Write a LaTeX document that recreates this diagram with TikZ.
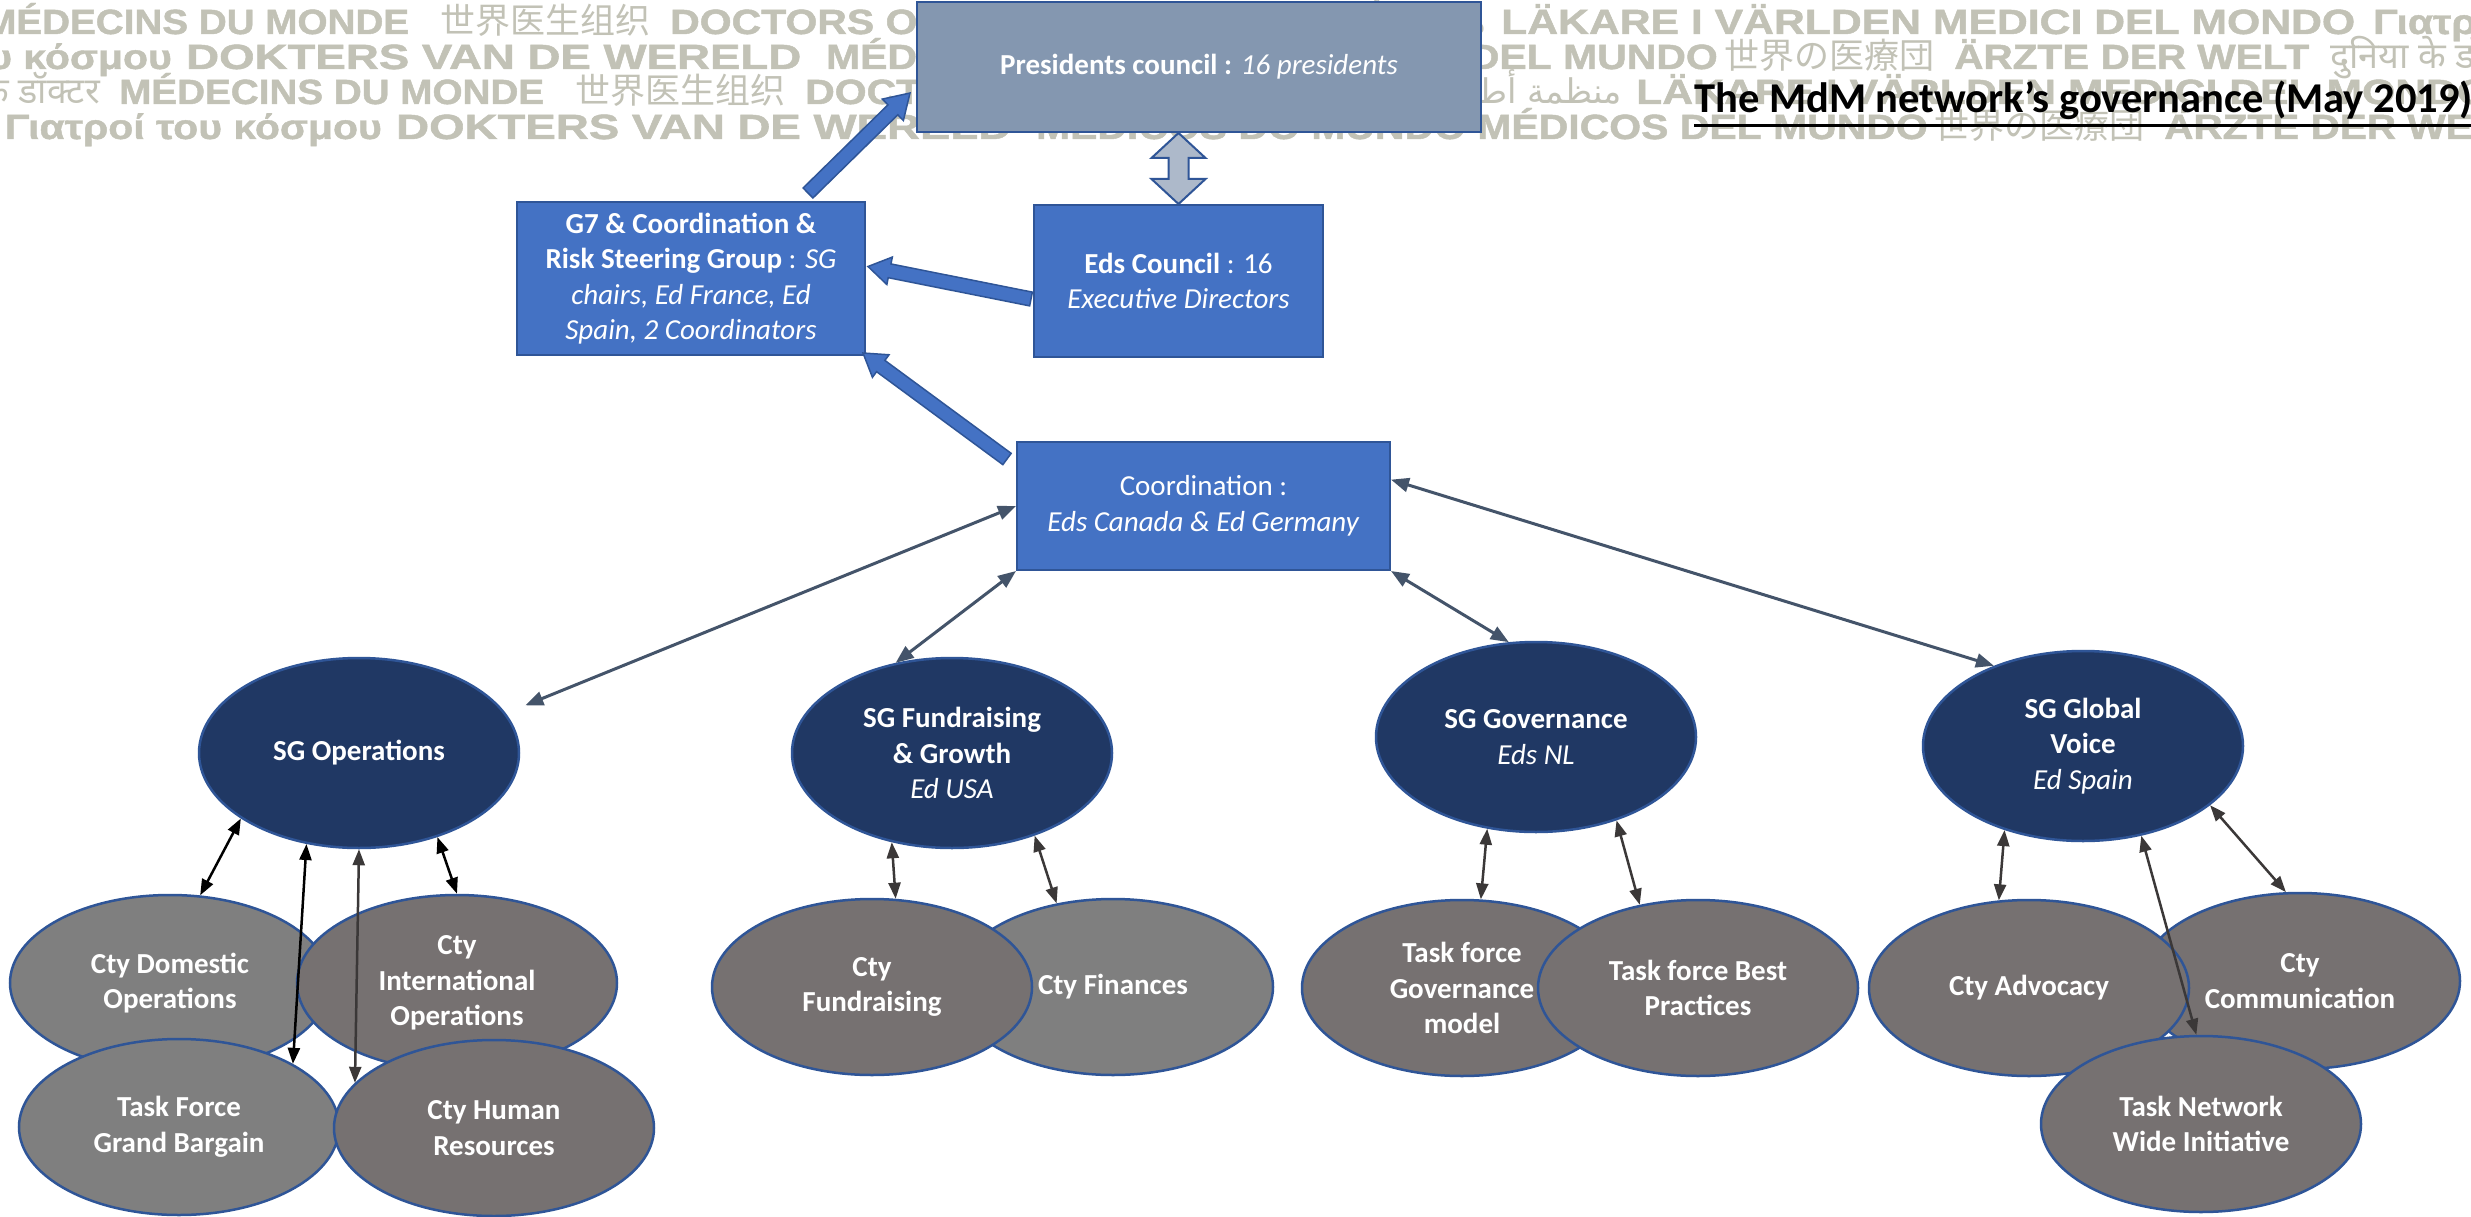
\documentclass[tikz,border=0pt]{standalone}
\usepackage{fontspec}
\setmainfont{Carlito}
\newfontfamily\wmfont[FakeBold=1.2]{Liberation Sans}
\newfontfamily\wmcjk{Noto Sans CJK SC}
\newfontfamily\wmjp{Noto Sans CJK JP}
\newfontfamily\wmdeva[Script=Devanagari]{Noto Sans}
\newfontfamily\wmarab[Script=Arabic]{DejaVu Sans}
\TeXXeTstate=1
\usepackage{tikz}
\usetikzlibrary{arrows.meta,calc,shapes.geometric}

\definecolor{boxblue}{HTML}{4472C4}
\definecolor{edgeblue}{HTML}{2F5597}
\definecolor{presgray}{HTML}{8497B0}
\definecolor{navy}{HTML}{203864}
\definecolor{ctygray}{HTML}{767171}
\definecolor{ctylight}{HTML}{7F7F7F}
\definecolor{linkgray}{HTML}{44546A}
\definecolor{subgray}{HTML}{3B3838}
\definecolor{dblfill}{HTML}{ADB9CA}
\definecolor{wmgray}{RGB}{194,194,182}

\newcommand{\wmx}[1]{\scalebox{1.17}[1]{#1}}
\newcommand{\wmw}[2]{\resizebox{#1}{\height}{#2}}
\newcommand{\blockarrow}[6]{%
  \draw[#1] let \p1=($(#3)-(#2)$), \n1={atan2(\y1,\x1)}, \n2={veclen(\x1,\y1)} in
    [shift={(#2)}, rotate=\n1]
    (0,#4) -- ({\n2-#6},#4) -- ({\n2-#6},#5) -- (\n2,0) -- ({\n2-#6},-#5) -- ({\n2-#6},-#4) -- (0,-#4) -- cycle;}
\newcommand{\dblblockarrow}[6]{%
  \draw[#1] let \p1=($(#3)-(#2)$), \n1={atan2(\y1,\x1)}, \n2={veclen(\x1,\y1)} in
    [shift={(#2)}, rotate=\n1]
    (0,0) -- (#6,#5) -- (#6,#4) -- ({\n2-#6},#4) -- ({\n2-#6},#5) -- (\n2,0) -- ({\n2-#6},-#5) -- ({\n2-#6},-#4) -- (#6,-#4) -- (#6,-#5) -- cycle;}

\begin{document}
\begin{tikzpicture}[x=1pt, y=-1pt,
  wm/.style={inner sep=0pt, text=wmgray, font=\wmfont\bfseries\fontsize{35}{35}\selectfont},
  govbox/.style={rectangle, draw=edgeblue, line width=2pt, fill=boxblue, text=white, align=center, inner sep=0pt, font=\fontsize{29}{35.5}\selectfont},
  sgnode/.style={ellipse, draw=edgeblue, line width=2.5pt, fill=navy, text=white, align=center, inner sep=0pt, minimum width=320pt, minimum height=190pt, font=\bfseries\fontsize{29}{35.5}\selectfont},
  ctynode/.style={sgnode, fill=ctygray, minimum height=176pt},
  blockarr/.style={fill=boxblue, draw=edgeblue, line width=1.5pt},
  dblarr/.style={fill=dblfill, draw=edgeblue, line width=2pt},
  link/.style={draw=linkgray, line width=3pt, >={Triangle[length=18pt,width=14pt]}, <->},
  sublink/.style={draw=black, line width=2.5pt, >={Triangle[length=16pt,width=12pt]}, <->}]
\useasboundingbox (0,0) rectangle (2471,1217);
\clip (0,0) rectangle (2471,1217);
\fill[white] (0,0) rectangle (2471,1217);

\foreach \dx/\by in {-135/34, 0/104} {
  \node[wm, font=\wmdeva\fontsize{36}{36}\selectfont, anchor=base east] (wmhia\by) at (100+\dx,\by) {दुनिया के डॉक्टर};
  \node[wm, anchor=base west] (wmfr\by) at (119+\dx,\by) {\wmw{425pt}{MÉDECINS DU MONDE}};
  \node[wm, font=\wmcjk\fontsize{35}{35}\selectfont, anchor=base west] (wmzh\by) at (575+\dx,\by) {世界医生组织};
  \node[wm, anchor=base west] (wmen\by) at (805+\dx,\by) {\wmx{DOCTORS OF THE WORLD}};
  \node[wm, font=\wmarab\fontsize{34}{34}\selectfont, anchor=base east] (wmar\by) at (1622+\dx,\by) {\beginR منظمة أطباء العالم\endR};
  \node[wm, anchor=base west] (wmsv\by) at (1636+\dx,\by) {\wmw{854pt}{LÄKARE I VÄRLDEN MEDICI DEL MONDO}};
  \node[wm, anchor=base west] (wmgra\by) at (2508+\dx,\by) {\wmx{Γιατροί του κόσμου}};
}
\foreach \dx/\by in {0/69, 210/139} {
  \node[wm, anchor=base east] (wmgrb\by) at (172+\dx,\by) {\wmx{Γιατροί του κόσμου}};
  \node[wm, anchor=base west] (wmnl\by) at (186+\dx,\by) {\wmw{615pt}{DOKTERS VAN DE WERELD}};
  \node[wm, anchor=base east] (wmes\by) at (1718+\dx,\by) {\wmx{MÉDICOS DO MUNDO MÉDICOS DEL MUNDO}};
  \node[wm, font=\wmjp\fontsize{35}{35}\selectfont, anchor=base east] (wmja\by) at (1935+\dx,\by) {世界の医療団};
  \node[wm, anchor=base west] (wmde\by) at (1954+\dx,\by) {\wmw{355pt}{ÄRZTE DER WELT}};
  \node[wm, font=\wmdeva\fontsize{36}{36}\selectfont, anchor=base west] (wmhib\by) at (2330+\dx,\by) {दुनिया के डॉक्टर};
}

\node[anchor=base west, inner sep=0pt, font=\bfseries\fontsize{42.5}{42.5}\selectfont] (title) at (1694,113) {The MdM network’s governance (May 2019)};
\draw[line width=3pt] ($(title.base west)+(0,13)$) -- ($(title.base east)+(0,13)$);

\node[govbox, fill=presgray, minimum width=564pt, minimum height=130pt] (pres) at (1199,67) {\textbf{Presidents council :} \textit{16 presidents}};
\node[govbox, minimum width=348pt, minimum height=153pt] (g7) at (691,278.5) {\textbf{G7 \& Coordination \&}\\\textbf{Risk Steering Group} : \textit{SG}\\\textit{chairs, Ed France, Ed}\\\textit{Spain, 2 Coordinators}};
\node[govbox, minimum width=289pt, minimum height=152pt] (eds) at (1178.5,281) {\textbf{Eds Council} : 16\\\textit{Executive Directors}};
\node[govbox, minimum width=373pt, minimum height=128pt] (coord) at (1203.5,506) {Coordination :\\\textit{Eds Canada \& Ed Germany}};

\coordinate (g7up) at ($(g7.north east)+(-58,-8)$);
\coordinate (presleft) at ($(pres.south west)+(-6,-40)$);
\coordinate (edsleft) at ($(eds.west)+(-2,18)$);
\coordinate (g7right) at ($(g7.east)+(2,-12)$);
\coordinate (coordup) at ($(coord.north west)+(-9,18)$);
\coordinate (g7corner) at ($(g7.south east)+(-3,-3)$);
\coordinate (presfoot) at (pres.south -| eds.north);
\blockarrow{blockarr}{g7up}{presleft}{7}{15}{24}
\blockarrow{blockarr}{edsleft}{g7right}{7}{14}{22}
\blockarrow{blockarr}{coordup}{g7corner}{7}{14}{22}
\dblblockarrow{dblarr}{eds.north}{presfoot}{10}{27}{25}

\node[sgnode] (sgops) at (359,753) {SG Operations};
\node[sgnode] (sgfund) at (952,753) {SG Fundraising\\\& Growth\\{\mdseries\itshape Ed USA}};
\node[sgnode] (sggov) at (1536,737) {SG Governance\\{\mdseries\itshape Eds NL}};
\node[sgnode] (sgvoice) at (2083,746) {SG Global\\Voice\\{\mdseries\itshape Ed Spain}};

\node[ctynode, fill=ctylight] (ctydom) at (170,983) {Cty Domestic\\Operations};
\node[ctynode] (ctyint) at (457,983) {Cty\\International\\Operations};
\node[ctynode, fill=ctylight] (tfgb) at (179,1127) {Task Force\\Grand Bargain};
\node[ctynode] (ctyhr) at (494,1128) {Cty Human\\Resources};
\node[ctynode, fill=ctylight] (ctyfin) at (1113,987) {Cty Finances};
\node[ctynode] (ctyfund) at (872,987) {Cty\\Fundraising};
\node[ctynode] (tfgov) at (1462,988) {Task force\\Governance\\model};
\node[ctynode] (tfbp) at (1698,988) {Task force Best\\Practices};
\node[ctynode] (ctycom) at (2300,981) {Cty\\Communication};
\node[ctynode] (ctyadv) at (2029,988) {Cty Advocacy};
\node[ctynode] (tnwi) at (2201,1124) {Task Network\\Wide Initiative};

\coordinate (opsin) at ($(sgops.16)+(21,-6)$);
\draw[link] (coord.west) -- (opsin);
\draw[link] (coord.south west) -- (sgfund.122);
\draw[link] (coord.south east) -- (sggov.106);
\draw[link] (coord.8) -- (sgvoice.138);

\draw[sublink] (sgops.209) -- (ctydom.71);
\draw[sublink] (sgops.240) -- (tfgb.29);
\draw[sublink, draw=subgray] (sgops.south) -- (ctyhr.162);
\draw[sublink] (sgops.313) -- (ctyint.north);
\draw[sublink, draw=subgray] (sgfund.236) -- (ctyfund.75);
\draw[sublink, draw=subgray] (sgfund.315) -- (ctyfin.124);
\draw[sublink, draw=subgray] (sggov.242) -- (tfgov.78);
\draw[sublink, draw=subgray] (sggov.314) -- (tfbp.125);
\draw[sublink, draw=subgray] (sgvoice.227) -- (ctyadv.109);
\draw[sublink, draw=subgray] (sgvoice.303) -- (tnwi.93);
\draw[sublink, draw=subgray] (sgvoice.335) -- (ctycom.99);
\end{tikzpicture}
\end{document}
